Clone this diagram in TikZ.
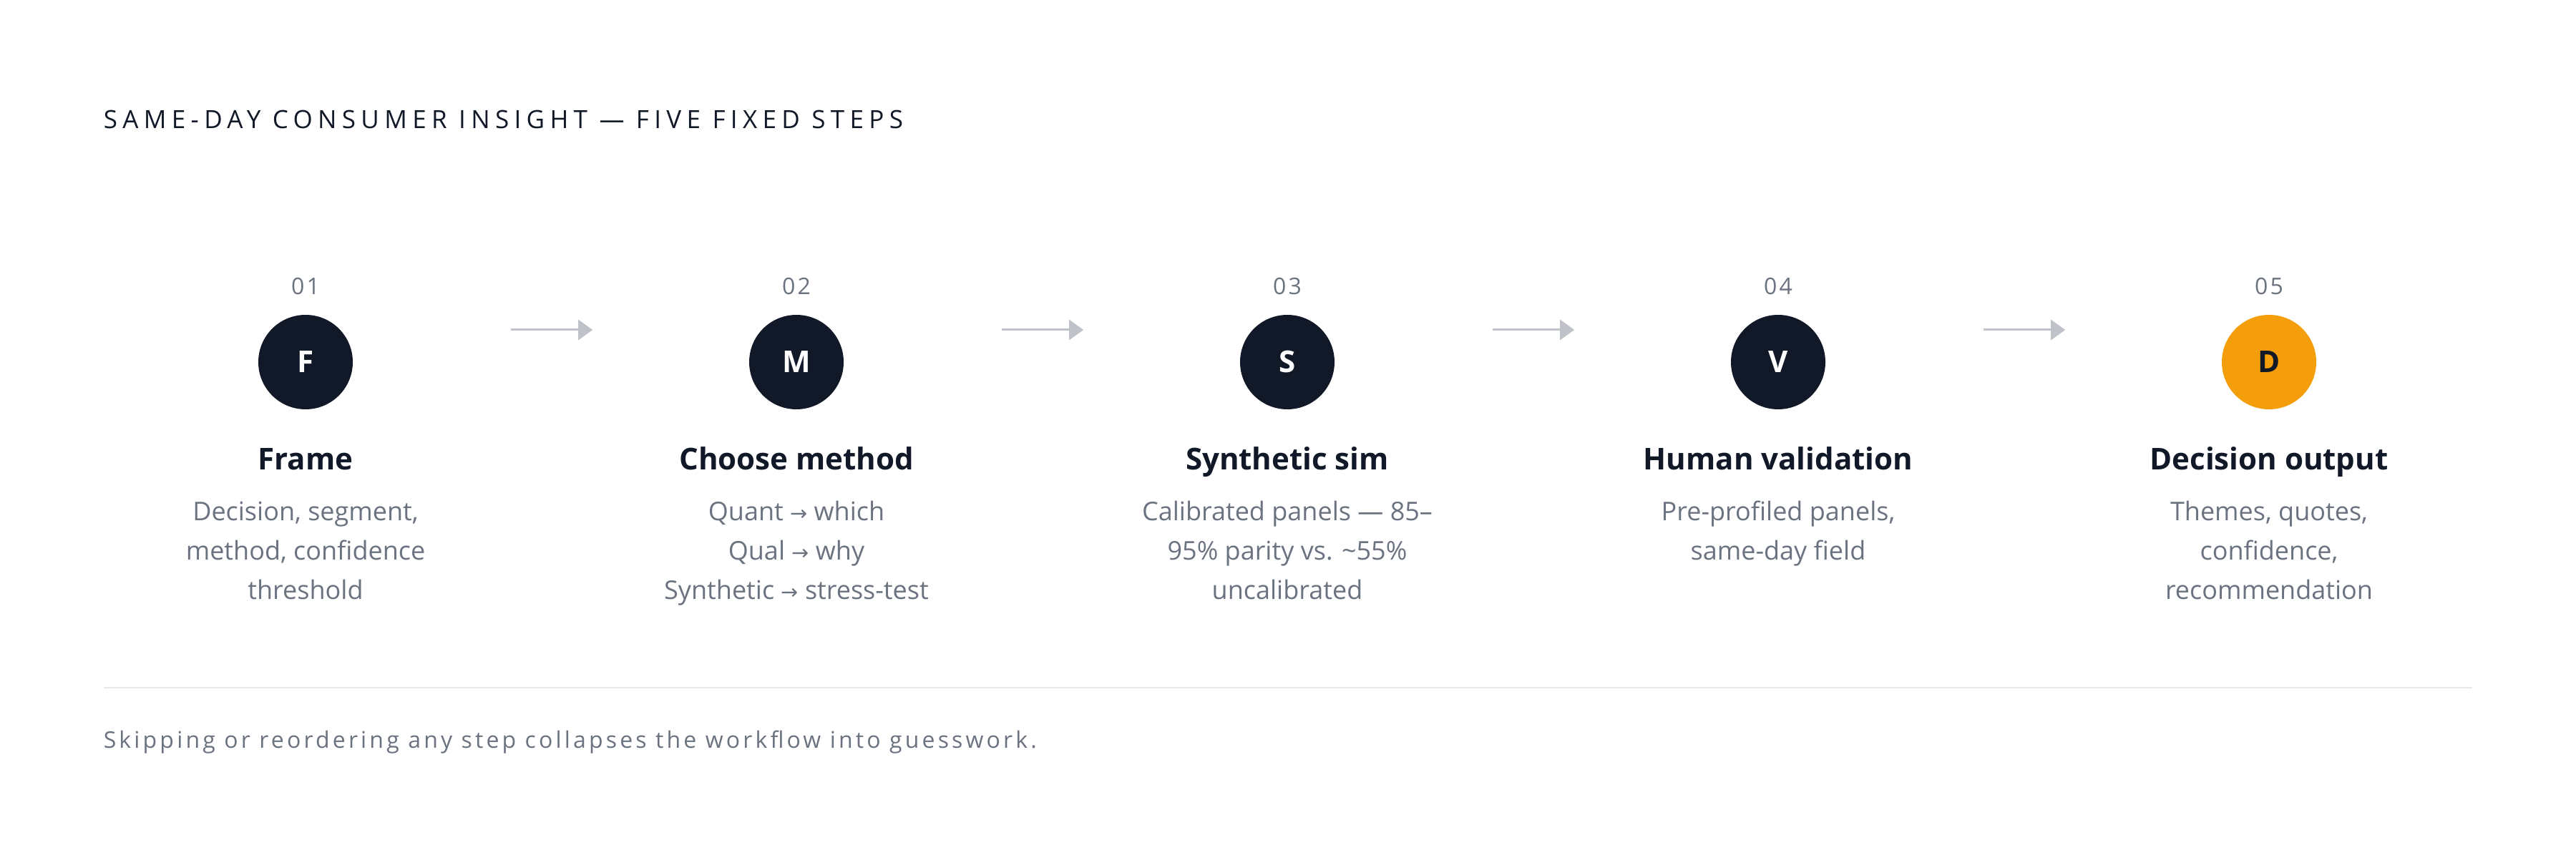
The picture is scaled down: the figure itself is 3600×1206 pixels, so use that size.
\documentclass[tikz,border=0pt]{standalone}
\usepackage{fontspec}
\setmainfont{Open Sans}
\newfontfamily\symfont[Scale=0.8]{DejaVu Sans}
\newfontfamily\spacedfont[LetterSpace=21]{Open Sans}
\newfontfamily\digitfont[LetterSpace=10]{Open Sans}
\newfontfamily\notefont[LetterSpace=13]{Open Sans}
\usepackage{tikz}
\usetikzlibrary{arrows.meta}
\definecolor{ink}{HTML}{111827}
\definecolor{muted}{HTML}{6B7280}
\definecolor{accent}{HTML}{F59E0B}
\definecolor{connector}{HTML}{BFC2C8}
\definecolor{hairline}{HTML}{E5E7EB}
\newcommand{\arr}{{\symfont →}}

\begin{document}
\begin{tikzpicture}
	[x=0.25pt, y=-0.25pt, inner sep=0pt,
	heading/.style	= {anchor=base west, text=ink, font=\spacedfont\fontsize{8.75}{10}\selectfont},
	stepno/.style	= {anchor=base, text=muted, font=\digitfont\fontsize{8}{10}\selectfont},
	badge/.style	= {circle, fill=ink, text=white, minimum size=33pt, font=\bfseries\fontsize{10.5}{12}\selectfont},
	badgeout/.style	= {badge, fill=accent, text=ink},
	head/.style		= {anchor=base, text=ink, font=\bfseries\fontsize{10.5}{12}\selectfont},
	desc/.style		= {anchor=base, align=center, text=muted, font=\fontsize{9}{13.75}\selectfont},
	note/.style		= {anchor=base west, text=muted, font=\notefont\fontsize{8}{10}\selectfont},
	paths/.style	= {-{Triangle[length=5pt, width=7pt]}, draw=connector, line width=0.75pt, shorten <= 55pt, shorten >= 54.5pt},
	divider/.style	= {draw=hairline, line width=0.6pt}]
	
	\path [fill=white, use as bounding box] (0,0) rectangle (3600,1206);
	
	\node at (144,180)	[heading]	(title)	{SAME-DAY CONSUMER INSIGHT — FIVE FIXED STEPS};
	
	\node at (427,412)	[stepno]	(n1)	{01};
	\node at (1113,412)	[stepno]	(n2)	{02};
	\node at (1799,412)	[stepno]	(n3)	{03};
	\node at (2485,412)	[stepno]	(n4)	{04};
	\node at (3171,412)	[stepno]	(n5)	{05};
	
	\node at (427,506)	[badge]		(frame)		{F};
	\node at (1113,506)	[badge]		(method)	{M};
	\node at (1799,506)	[badge]		(sim)		{S};
	\node at (2485,506)	[badge]		(valid)		{V};
	\node at (3171,506)	[badgeout]	(output)	{D};
	
	\node at (427,657)	[head]	(h1)	{Frame};
	\node at (1113,657)	[head]	(h2)	{Choose method};
	\node at (1799,657)	[head]	(h3)	{Synthetic sim};
	\node at (2485,657)	[head]	(h4)	{Human validation};
	\node at (3171,657)	[head]	(h5)	{Decision output};
	
	% base of a multi-line node sits on its last line
	\node at (427,838)	[desc]	(d1)	{Decision, segment,\\method, confidence\\threshold};
	\node at (1113,838)	[desc]	(d2)	{Quant \arr{} which\\Qual \arr{} why\\Synthetic \arr{} stress-test};
	\node at (1799,838)	[desc]	(d3)	{Calibrated panels — 85–\\95\% parity vs. \textasciitilde55\%\\uncalibrated};
	\node at (2485,783)	[desc]	(d4)	{Pre-profiled panels,\\same-day field};
	\node at (3171,838)	[desc]	(d5)	{Themes, quotes,\\confidence,\\recommendation};
	
	\draw [paths] ([yshift=11.25pt]frame.east) -- ([yshift=11.25pt]method.west);
	\draw [paths] ([yshift=11.25pt]method.east) -- ([yshift=11.25pt]sim.west);
	\draw [paths] ([yshift=11.25pt]sim.east) -- ([yshift=11.25pt]valid.west);
	\draw [paths] ([yshift=11.25pt]valid.east) -- ([yshift=11.25pt]output.west);
	
	\draw [divider] (145,961) -- (3455,961);
	\node at (144,1046)	[note]	(foot)	{Skipping or reordering any step collapses the workflow into guesswork.};
\end{tikzpicture}
\end{document}
